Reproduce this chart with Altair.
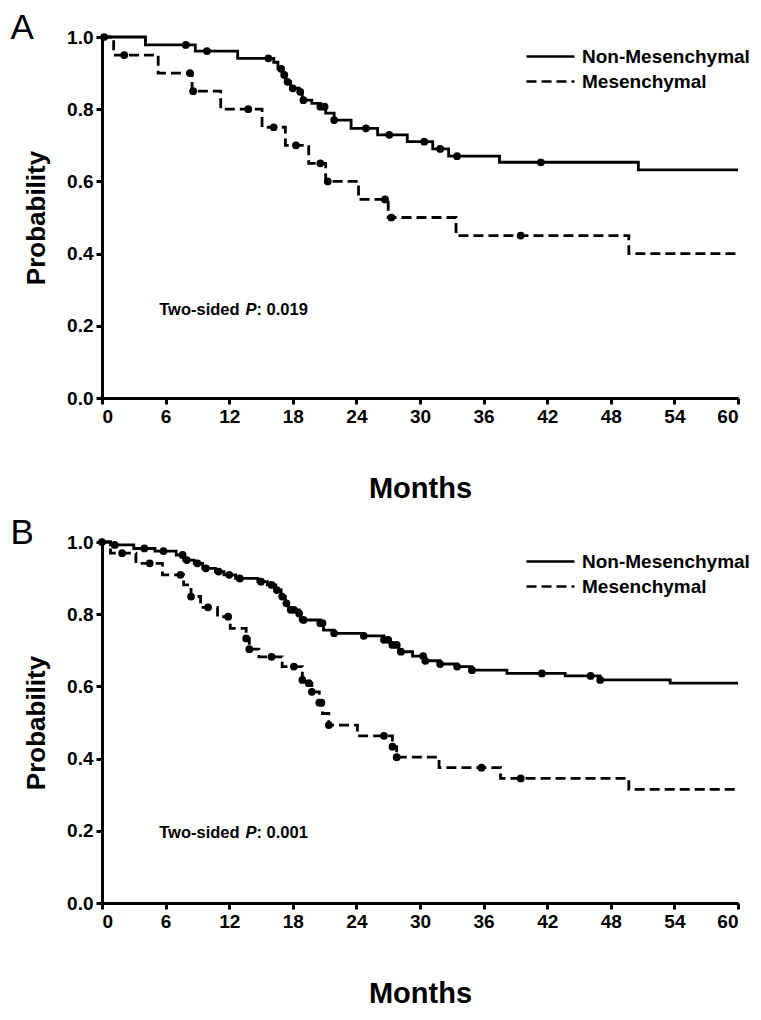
import altair as alt
import pandas as pd

FONT = "Liberation Sans"
GROUPS = ["Non-Mesenchymal", "Mesenchymal"]

# ---- Panel A ----
a_non_t = [0, 4.1, 8.8, 12.8, 16.2, 16.6, 17.0, 17.3, 17.8, 18.6, 18.9, 19.8, 20.6, 21.1,
           21.9, 23.5, 26.0, 28.8, 31.2, 32.7, 37.5, 50.6, 60]
a_non_s = [1.0, 0.978, 0.961, 0.941, 0.930, 0.912, 0.895, 0.876, 0.858, 0.848, 0.825, 0.816,
           0.807, 0.789, 0.770, 0.747, 0.729, 0.710, 0.690, 0.670, 0.653, 0.632, 0.632]
a_non_c = [0.2, 7.9, 9.9, 15.7, 16.9, 17.2, 17.5, 18.0, 18.7, 19.0, 20.6, 21.0, 21.9, 24.9,
           27.1, 30.4, 31.9, 33.5, 41.4]
a_mes_t = [0, 1.1, 5.3, 8.5, 11.2, 15.1, 17.3, 19.5, 21.1, 24.2, 27.0, 33.4, 49.7, 60]
a_mes_s = [1.0, 0.95, 0.90, 0.85, 0.80, 0.75, 0.70, 0.65, 0.60, 0.55, 0.50, 0.45, 0.40, 0.40]
a_mes_c = [2.1, 8.3, 8.6, 13.8, 16.2, 18.3, 20.6, 21.3, 26.7, 27.3, 39.5]

# ---- Panel B ----
b_non_t = [0, 0.8, 3.0, 5.0, 7.0, 7.7, 8.7, 9.5, 10.7, 11.5, 12.6, 14.7, 15.6, 16.4, 16.9,
           17.3, 17.6, 18.6, 18.7, 20.6, 20.9, 21.9, 24.7, 26.6, 27.2, 28.0, 29.3, 30.4, 31.9,
           33.5, 34.9, 38.2, 43.7, 47.0, 53.6, 60]
b_non_s = [1.0, 0.992, 0.982, 0.975, 0.964, 0.950, 0.941, 0.927, 0.918, 0.909, 0.899, 0.890,
           0.881, 0.867, 0.849, 0.830, 0.812, 0.802, 0.784, 0.775, 0.756, 0.747, 0.740, 0.729,
           0.715, 0.696, 0.684, 0.671, 0.662, 0.655, 0.645, 0.636, 0.629, 0.618, 0.609, 0.609]
b_non_c = [0, 1.2, 4.0, 5.8, 7.6, 8.0, 9.0, 9.8, 11.0, 12.0, 13.0, 15.0, 16.0, 16.5, 17.0,
           17.4, 17.8, 18.1, 18.6, 19.0, 20.6, 20.8, 21.9, 24.7, 26.6, 27.0, 27.4, 27.8, 28.2,
           30.3, 30.5, 31.9, 33.5, 34.9, 41.5, 46.1, 47.0]
b_mes_t = [0, 0.8, 3.2, 5.7, 7.7, 8.4, 9.3, 10.9, 12.1, 13.6, 13.9, 14.8, 17.0, 18.9, 19.4,
           19.8, 20.5, 20.8, 21.4, 24.1, 27.4, 27.8, 31.8, 37.6, 49.7, 60]
b_mes_s = [1.0, 0.969, 0.941, 0.909, 0.881, 0.849, 0.819, 0.793, 0.761, 0.733, 0.703, 0.682,
           0.655, 0.618, 0.609, 0.585, 0.555, 0.525, 0.493, 0.463, 0.433, 0.404, 0.375, 0.345,
           0.315, 0.315]
b_mes_c = [1.9, 4.5, 7.4, 8.4, 10.0, 11.9, 13.6, 13.9, 16.0, 18.1, 18.9, 19.5, 19.8, 20.5,
           20.7, 21.4, 26.6, 27.4, 27.8, 35.8, 39.5]

x_ticks = list(range(0, 61, 6))
y_ticks = [0.0, 0.2, 0.4, 0.6, 0.8, 1.0]


def step_value(ts, ss, c):
    v = ss[0]
    for t, s in zip(ts, ss):
        if t <= c:
            v = s
    return v


def panel(letter, non_t, non_s, non_c, mes_t, mes_s, mes_c, pval, ann_x, ann_y):
    lines = pd.DataFrame({
        "month": non_t + mes_t,
        "prob": non_s + mes_s,
        "group": [GROUPS[0]] * len(non_t) + [GROUPS[1]] * len(mes_t),
    })
    cens = pd.DataFrame({
        "month": non_c + mes_c,
        "prob": [step_value(non_t, non_s, c) for c in non_c]
        + [step_value(mes_t, mes_s, c) for c in mes_c],
    })
    x = alt.X("month:Q", scale=alt.Scale(domain=[0, 60], nice=False),
              axis=alt.Axis(values=x_ticks, title="Months", titlePadding=48,
                            titleFontSize=29))
    y = alt.Y("prob:Q", scale=alt.Scale(domain=[0, 1], nice=False),
              axis=alt.Axis(values=y_ticks, format=".1f", title="Probability",
                            titlePadding=17, titleFontSize=26))
    line = alt.Chart(lines).mark_line(
        interpolate="step-after", color="black", strokeWidth=2.8
    ).encode(
        x=x, y=y,
        strokeDash=alt.StrokeDash(
            "group:N",
            scale=alt.Scale(domain=GROUPS, range=[[1, 0], [10, 5]]),
            legend=alt.Legend(
                title=None, orient="none", legendX=435, legendY=6,
                symbolType="M-2,0H2", symbolSize=576,
                symbolStrokeWidth=2.5, symbolStrokeColor="black",
                labelFont=FONT, labelFontSize=19, labelFontWeight="bold",
                labelColor="black", labelOffset=18, rowPadding=1, labelLimit=0,
            ),
        ),
    )
    dots = alt.Chart(cens).mark_circle(color="black", size=60, opacity=1).encode(
        x="month:Q", y="prob:Q"
    )
    ann = pd.DataFrame({"x": [ann_x], "y": [ann_y]})
    base = alt.Chart(ann).encode(x="x:Q", y="y:Q")
    style = dict(align="left", baseline="middle", font=FONT, fontSize=16.5,
                 fontWeight="bold", color="black")
    t1 = base.mark_text(text="Two-sided ", **style)
    t2 = base.mark_text(text="P", dx=86.2, fontStyle="italic", **style)
    t3 = base.mark_text(text=": " + pval, dx=97.2, **style)
    return alt.layer(line, dots, t1, t2, t3).properties(
        width=636, height=361,
        title=alt.TitleParams(letter, anchor="start", frame="bounds", fontSize=35,
                              fontWeight="normal", font=FONT, color="black",
                              dx=-13, offset=-18),
    )


pa = panel("A", a_non_t, a_non_s, a_non_c, a_mes_t, a_mes_s, a_mes_c, "0.019", 5.4, 0.244)
pb = panel("B", b_non_t, b_non_s, b_non_c, b_mes_t, b_mes_s, b_mes_c, "0.001", 5.4, 0.194)

chart = alt.vconcat(pa, pb, spacing=13).resolve_legend(strokeDash="independent").properties(
    padding={"left": 2, "top": 3, "right": 0, "bottom": 0}
).configure_axis(
    domainColor="black", domainWidth=3, tickColor="black", tickWidth=3, tickSize=6,
    labelFont=FONT, labelFontSize=19, labelFontWeight="bold", labelColor="black",
    labelPadding=3, titleFont=FONT, titleFontWeight="bold",
    titleColor="black", grid=False,
).configure_view(stroke=None)

chart.save("out.html", embed_options={"renderer": "svg", "actions": False})
